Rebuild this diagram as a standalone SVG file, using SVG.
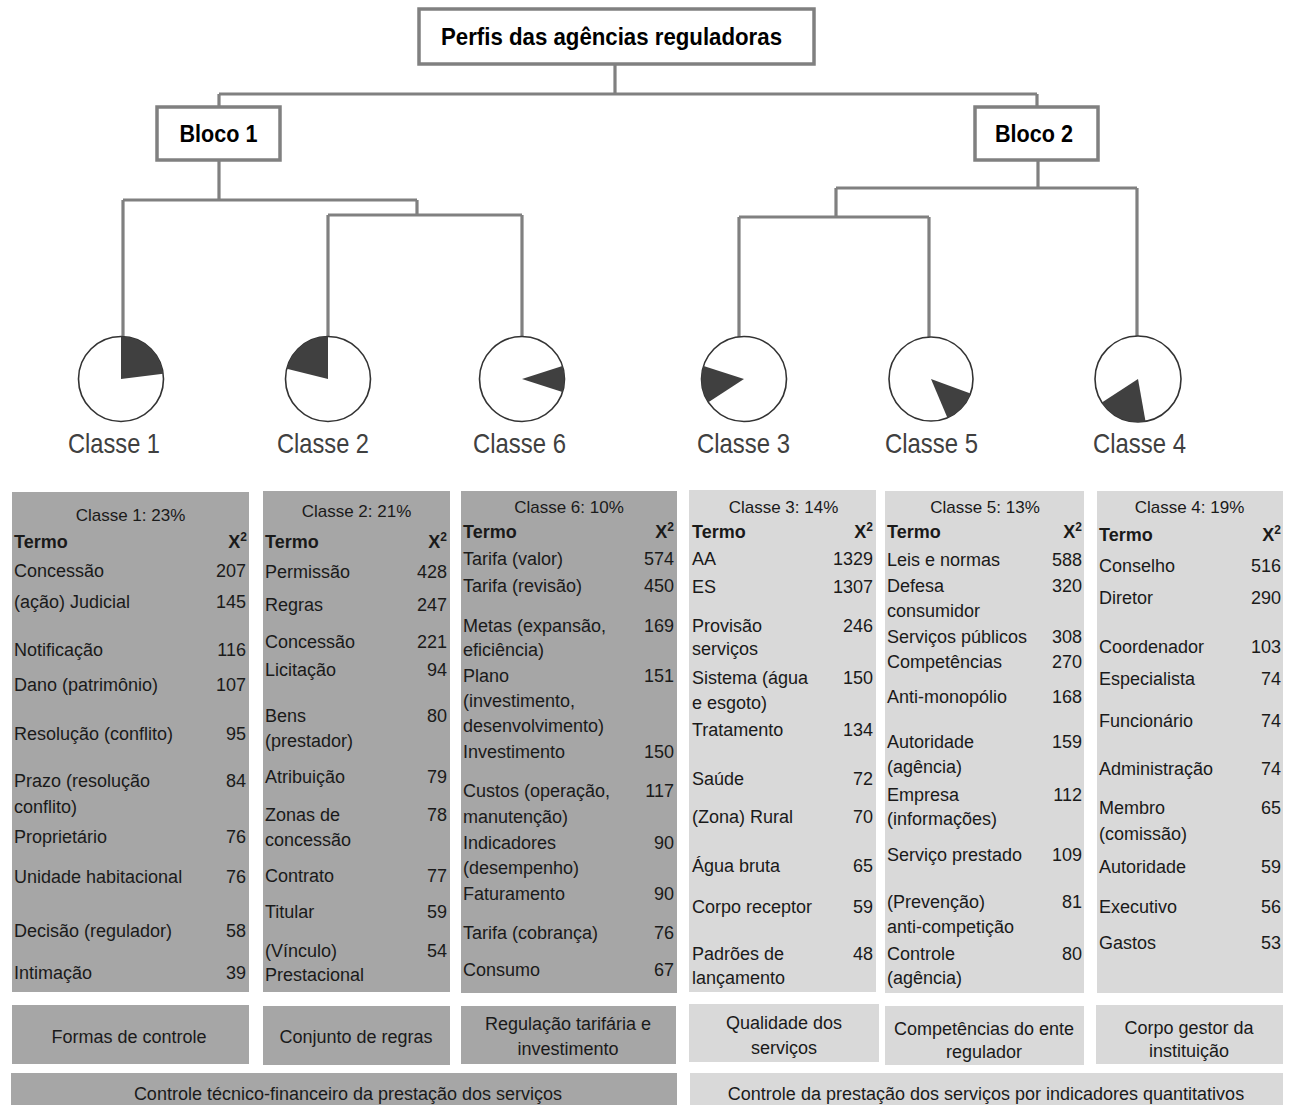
<svg xmlns="http://www.w3.org/2000/svg" width="1293" height="1105" viewBox="0 0 1293 1105">
<style>
text{font-family:"Liberation Sans",Arial,sans-serif;fill:#1a1a1a}
.box{fill:#fff;stroke:#808080;stroke-width:3.5}
.ttl{font-weight:bold;font-size:23px;fill:#000}
.blk{font-weight:bold;font-size:24px;fill:#000}
.pie{fill:#fff;stroke:#333;stroke-width:1.6}
.sl{fill:#404040}
.cl{font-size:28px;fill:#404040;text-anchor:middle}
.dk{fill:#a6a6a6}
.lt{fill:#d9d9d9}
.t{font-size:18px}
.n{font-size:18px;text-anchor:end}
.hd{font-size:18px;font-weight:bold}
.hn{font-size:18px;font-weight:bold;text-anchor:end}
.sup{font-size:12px}
.c{font-size:17px;text-anchor:middle}
.b{font-size:18px;text-anchor:middle}
#connectors path{fill:none;stroke:#808080;stroke-width:3.2}
</style>

<g id="connectors">
<path d="M615,63 V94 M219,94 H1037 M219,94 V107 M1037,94 V107"/>
<path d="M219,160 V200 M123,200 H417 M123,200 V337 M417,200 V215 M328,215 H522 M328,215 V337 M522,215 V337"/>
<path d="M1038,160 V188 M836,188 H1137 M1137,188 V337 M836,188 V217 M739,217 H929 M739,217 V337 M929,217 V337"/>
</g>

<g id="title">
<rect class="box" x="419" y="9" width="395" height="55"/>
<text class="ttl" x="611.5" y="45" text-anchor="middle" textLength="341" lengthAdjust="spacingAndGlyphs">Perfis das agências  reguladoras</text>
</g>
<g id="bloco1">
<rect class="box" x="157" y="107" width="123" height="53"/>
<text class="blk" x="218.5" y="142" text-anchor="middle" textLength="78" lengthAdjust="spacingAndGlyphs">Bloco 1</text>
</g>
<g id="bloco2">
<rect class="box" x="975" y="107" width="123" height="53"/>
<text class="blk" x="1034" y="142" text-anchor="middle" textLength="78" lengthAdjust="spacingAndGlyphs">Bloco 2</text>
</g>

<g id="pie1">
<circle class="pie" cx="121" cy="379" r="42.5"/>
<path class="sl" d="M121,379 L121,336.5 A42.5 42.5 0 0 1 163.2,373.8 Z"/>
<text class="cl" x="114" y="453" textLength="92" lengthAdjust="spacingAndGlyphs">Classe 1</text>
</g>
<g id="pie2">
<circle class="pie" cx="328" cy="379" r="42.5"/>
<path class="sl" d="M328,379 L286.8,368.7 A42.5 42.5 0 0 1 328,336.5 Z"/>
<text class="cl" x="323" y="453" textLength="92" lengthAdjust="spacingAndGlyphs">Classe 2</text>
</g>
<g id="pie6">
<circle class="pie" cx="522" cy="379" r="42.5"/>
<path class="sl" d="M522,379 L562.4,365.9 A42.5 42.5 0 0 1 562.4,392.1 Z"/>
<text class="cl" x="519.5" y="453" textLength="93" lengthAdjust="spacingAndGlyphs">Classe 6</text>
</g>
<g id="pie3">
<circle class="pie" cx="744" cy="379" r="42.5"/>
<path class="sl" d="M744,379 L708.4,402.2 A42.5 42.5 0 0 1 703.6,365.9 Z"/>
<text class="cl" x="743.5" y="453" textLength="93" lengthAdjust="spacingAndGlyphs">Classe 3</text>
</g>
<g id="pie5">
<circle class="pie" cx="931" cy="379" r="42"/>
<path class="sl" d="M931,379 L970.5,393.4 A42 42 0 0 1 947.4,417.7 Z"/>
<text class="cl" x="931.5" y="453" textLength="93" lengthAdjust="spacingAndGlyphs">Classe 5</text>
</g>
<g id="pie4">
<circle class="pie" cx="1138" cy="379" r="43"/>
<path class="sl" d="M1138,379 L1145.5,421.3 A43 43 0 0 1 1101.9,402.4 Z"/>
<text class="cl" x="1139.5" y="453" textLength="93" lengthAdjust="spacingAndGlyphs">Classe 4</text>
</g>

<g id="table1">
<rect class="dk" x="12" y="492" width="237" height="500"/>
<text class="c" x="130.5" y="521">Classe 1: 23%</text>
<text class="hd" x="14" y="548">Termo</text><text class="hn" x="247" y="548">X<tspan class="sup" dy="-7">2</tspan></text>
<text class="t" x="14" y="577">Concessão</text><text class="n" x="246" y="577">207</text>
<text class="t" x="14" y="608">(ação) Judicial</text><text class="n" x="246" y="608">145</text>
<text class="t" x="14" y="656">Notificação</text><text class="n" x="246" y="656">116</text>
<text class="t" x="14" y="691">Dano (patrimônio)</text><text class="n" x="246" y="691">107</text>
<text class="t" x="14" y="740">Resolução (conflito)</text><text class="n" x="246" y="740">95</text>
<text class="t" x="14" y="787">Prazo (resolução</text><text class="n" x="246" y="787">84</text>
<text class="t" x="14" y="813">conflito)</text>
<text class="t" x="14" y="843">Proprietário</text><text class="n" x="246" y="843">76</text>
<text class="t" x="14" y="883">Unidade habitacional</text><text class="n" x="246" y="883">76</text>
<text class="t" x="14" y="937">Decisão (regulador)</text><text class="n" x="246" y="937">58</text>
<text class="t" x="14" y="979">Intimação</text><text class="n" x="246" y="979">39</text>
</g>

<g id="table2">
<rect class="dk" x="263" y="491" width="187" height="501"/>
<text class="c" x="356.5" y="517">Classe 2: 21%</text>
<text class="hd" x="265" y="548">Termo</text><text class="hn" x="447" y="548">X<tspan class="sup" dy="-7">2</tspan></text>
<text class="t" x="265" y="578">Permissão</text><text class="n" x="447" y="578">428</text>
<text class="t" x="265" y="611">Regras</text><text class="n" x="447" y="611">247</text>
<text class="t" x="265" y="648">Concessão</text><text class="n" x="447" y="648">221</text>
<text class="t" x="265" y="676">Licitação</text><text class="n" x="447" y="676">94</text>
<text class="t" x="265" y="722">Bens</text><text class="n" x="447" y="722">80</text>
<text class="t" x="265" y="747">(prestador)</text>
<text class="t" x="265" y="783">Atribuição</text><text class="n" x="447" y="783">79</text>
<text class="t" x="265" y="821">Zonas de</text><text class="n" x="447" y="821">78</text>
<text class="t" x="265" y="846">concessão</text>
<text class="t" x="265" y="882">Contrato</text><text class="n" x="447" y="882">77</text>
<text class="t" x="265" y="918">Titular</text><text class="n" x="447" y="918">59</text>
<text class="t" x="265" y="957">(Vínculo)</text><text class="n" x="447" y="957">54</text>
<text class="t" x="265" y="981">Prestacional</text>
</g>

<g id="table6">
<rect class="dk" x="461" y="491" width="216" height="502"/>
<text class="c" x="569" y="513">Classe 6: 10%</text>
<text class="hd" x="463" y="538">Termo</text><text class="hn" x="674" y="538">X<tspan class="sup" dy="-7">2</tspan></text>
<text class="t" x="463" y="565">Tarifa (valor)</text><text class="n" x="674" y="565">574</text>
<text class="t" x="463" y="592">Tarifa (revisão)</text><text class="n" x="674" y="592">450</text>
<text class="t" x="463" y="632">Metas (expansão,</text><text class="n" x="674" y="632">169</text>
<text class="t" x="463" y="656">eficiência)</text>
<text class="t" x="463" y="682">Plano</text><text class="n" x="674" y="682">151</text>
<text class="t" x="463" y="707">(investimento,</text>
<text class="t" x="463" y="732">desenvolvimento)</text>
<text class="t" x="463" y="758">Investimento</text><text class="n" x="674" y="758">150</text>
<text class="t" x="463" y="797">Custos (operação,</text><text class="n" x="674" y="797">117</text>
<text class="t" x="463" y="823">manutenção)</text>
<text class="t" x="463" y="849">Indicadores</text><text class="n" x="674" y="849">90</text>
<text class="t" x="463" y="874">(desempenho)</text>
<text class="t" x="463" y="900">Faturamento</text><text class="n" x="674" y="900">90</text>
<text class="t" x="463" y="939">Tarifa (cobrança)</text><text class="n" x="674" y="939">76</text>
<text class="t" x="463" y="976">Consumo</text><text class="n" x="674" y="976">67</text>
</g>

<g id="table3">
<rect class="lt" x="689" y="490" width="187" height="502"/>
<text class="c" x="783.5" y="513">Classe 3: 14%</text>
<text class="hd" x="692" y="538">Termo</text><text class="hn" x="873" y="538">X<tspan class="sup" dy="-7">2</tspan></text>
<text class="t" x="692" y="565">AA</text><text class="n" x="873" y="565">1329</text>
<text class="t" x="692" y="593">ES</text><text class="n" x="873" y="593">1307</text>
<text class="t" x="692" y="632">Provisão</text><text class="n" x="873" y="632">246</text>
<text class="t" x="692" y="655">serviços</text>
<text class="t" x="692" y="684">Sistema (água</text><text class="n" x="873" y="684">150</text>
<text class="t" x="692" y="709">e esgoto)</text>
<text class="t" x="692" y="736">Tratamento</text><text class="n" x="873" y="736">134</text>
<text class="t" x="692" y="785">Saúde</text><text class="n" x="873" y="785">72</text>
<text class="t" x="692" y="823">(Zona) Rural</text><text class="n" x="873" y="823">70</text>
<text class="t" x="692" y="872">Água bruta</text><text class="n" x="873" y="872">65</text>
<text class="t" x="692" y="913">Corpo receptor</text><text class="n" x="873" y="913">59</text>
<text class="t" x="692" y="960">Padrões de</text><text class="n" x="873" y="960">48</text>
<text class="t" x="692" y="984">lançamento</text>
</g>

<g id="table5">
<rect class="lt" x="885" y="491" width="199" height="502"/>
<text class="c" x="985" y="513">Classe 5: 13%</text>
<text class="hd" x="887" y="538">Termo</text><text class="hn" x="1082" y="538">X<tspan class="sup" dy="-7">2</tspan></text>
<text class="t" x="887" y="566">Leis e normas</text><text class="n" x="1082" y="566">588</text>
<text class="t" x="887" y="592">Defesa</text><text class="n" x="1082" y="592">320</text>
<text class="t" x="887" y="617">consumidor</text>
<text class="t" x="887" y="643">Serviços públicos</text><text class="n" x="1082" y="643">308</text>
<text class="t" x="887" y="668">Competências</text><text class="n" x="1082" y="668">270</text>
<text class="t" x="887" y="703">Anti-monopólio</text><text class="n" x="1082" y="703">168</text>
<text class="t" x="887" y="748">Autoridade</text><text class="n" x="1082" y="748">159</text>
<text class="t" x="887" y="773">(agência)</text>
<text class="t" x="887" y="801">Empresa</text><text class="n" x="1082" y="801">112</text>
<text class="t" x="887" y="825">(informações)</text>
<text class="t" x="887" y="861">Serviço prestado</text><text class="n" x="1082" y="861">109</text>
<text class="t" x="887" y="908">(Prevenção)</text><text class="n" x="1082" y="908">81</text>
<text class="t" x="887" y="933">anti-competição</text>
<text class="t" x="887" y="960">Controle</text><text class="n" x="1082" y="960">80</text>
<text class="t" x="887" y="984">(agência)</text>
</g>

<g id="table4">
<rect class="lt" x="1097" y="491" width="186" height="502"/>
<text class="c" x="1189.5" y="513">Classe 4: 19%</text>
<text class="hd" x="1099" y="541">Termo</text><text class="hn" x="1281" y="541">X<tspan class="sup" dy="-7">2</tspan></text>
<text class="t" x="1099" y="572">Conselho</text><text class="n" x="1281" y="572">516</text>
<text class="t" x="1099" y="604">Diretor</text><text class="n" x="1281" y="604">290</text>
<text class="t" x="1099" y="653">Coordenador</text><text class="n" x="1281" y="653">103</text>
<text class="t" x="1099" y="685">Especialista</text><text class="n" x="1281" y="685">74</text>
<text class="t" x="1099" y="727">Funcionário</text><text class="n" x="1281" y="727">74</text>
<text class="t" x="1099" y="775">Administração</text><text class="n" x="1281" y="775">74</text>
<text class="t" x="1099" y="814">Membro</text><text class="n" x="1281" y="814">65</text>
<text class="t" x="1099" y="840">(comissão)</text>
<text class="t" x="1099" y="873">Autoridade</text><text class="n" x="1281" y="873">59</text>
<text class="t" x="1099" y="913">Executivo</text><text class="n" x="1281" y="913">56</text>
<text class="t" x="1099" y="949">Gastos</text><text class="n" x="1281" y="949">53</text>
</g>

<g id="theme1">
<rect class="dk" x="12" y="1005" width="237" height="59"/>
<text class="b" x="129" y="1043">Formas de controle</text>
</g>
<g id="theme2">
<rect class="dk" x="263" y="1006" width="187" height="59"/>
<text class="b" x="356" y="1043">Conjunto de regras</text>
</g>
<g id="theme6">
<rect class="dk" x="461" y="1006" width="215" height="58"/>
<text class="b" x="568" y="1030">Regulação tarifária e</text>
<text class="b" x="568" y="1055">investimento</text>
</g>
<g id="theme3">
<rect class="lt" x="689" y="1004" width="190" height="58"/>
<text class="b" x="784" y="1029">Qualidade dos</text>
<text class="b" x="784" y="1054">serviços</text>
</g>
<g id="theme5">
<rect class="lt" x="885" y="1006" width="199" height="59"/>
<text class="b" x="984" y="1035">Competências do ente</text>
<text class="b" x="984" y="1058">regulador</text>
</g>
<g id="theme4">
<rect class="lt" x="1096" y="1005" width="187" height="59"/>
<text class="b" x="1189" y="1034">Corpo gestor da</text>
<text class="b" x="1189" y="1057">instituição</text>
</g>
<g id="group1">
<rect class="dk" x="11" y="1073" width="666" height="32"/>
<text class="b" x="348" y="1100">Controle técnico-financeiro da prestação dos serviços</text>
</g>
<g id="group2">
<rect class="lt" x="690" y="1073" width="593" height="32"/>
<text class="b" x="986" y="1100">Controle da prestação dos serviços por indicadores quantitativos</text>
</g>
</svg>
